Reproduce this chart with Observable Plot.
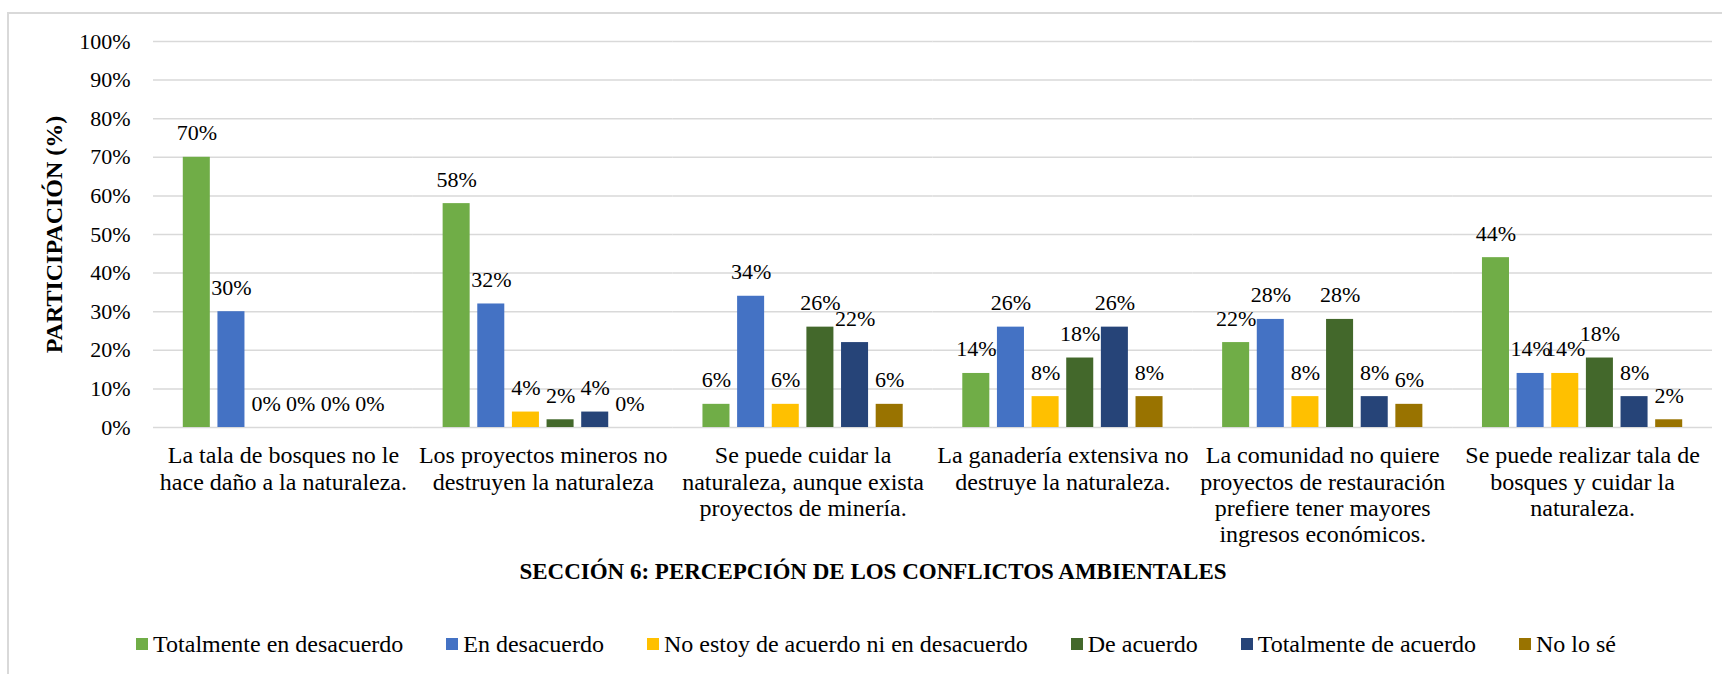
<!DOCTYPE html>
<html><head><meta charset="utf-8">
<script src="https://cdn.jsdelivr.net/npm/d3@7"></script>
<script src="https://cdn.jsdelivr.net/npm/@observablehq/plot@0.6"></script>
<style>
body{margin:0;background:#fff;}
#wrap{position:relative;width:1722px;height:674px;overflow:hidden;font-family:"Liberation Serif","Times New Roman",serif;color:#000;}
#frame{position:absolute;left:7px;top:12px;width:1800px;height:800px;border:2px solid #d9d9d9;box-sizing:border-box;}
#chart{position:absolute;left:0;top:0;}
#title{position:absolute;left:0;width:1746px;top:559px;text-align:center;font-weight:bold;font-size:23px;line-height:26px;}
#legend{position:absolute;left:0;width:1752px;top:630px;display:flex;justify-content:center;gap:43px;font-size:24px;line-height:28px;}
.item{display:flex;align-items:center;white-space:nowrap;}
.sw{width:12px;height:12px;margin-right:5px;display:inline-block;}
</style>
</head><body>
<div id="wrap">
  <div id="frame"></div>
  <div id="chart"></div>
  <div id="title"></div>
  <div id="legend"></div>
</div>
<script>
const categories = [
  "La tala de bosques no le hace daño a la naturaleza.",
  "Los proyectos mineros no destruyen la naturaleza",
  "Se puede cuidar la naturaleza, aunque exista proyectos de minería.",
  "La ganadería extensiva no destruye la naturaleza.",
  "La comunidad no quiere proyectos de restauración prefiere tener mayores ingresos económicos.",
  "Se puede realizar tala de bosques y cuidar la naturaleza."
];
const categoryLabels = [
  "La tala de bosques no le\nhace daño a la naturaleza.",
  "Los proyectos mineros no\ndestruyen la naturaleza",
  "Se puede cuidar la\nnaturaleza, aunque exista\nproyectos de minería.",
  "La ganadería extensiva no\ndestruye la naturaleza.",
  "La comunidad no quiere\nproyectos de restauración\nprefiere tener mayores\ningresos económicos.",
  "Se puede realizar tala de\nbosques y cuidar la\nnaturaleza."
];
const series = [
  "Totalmente en desacuerdo",
  "En desacuerdo",
  "No estoy de acuerdo ni en desacuerdo",
  "De acuerdo",
  "Totalmente de acuerdo",
  "No lo sé"
];
const colors = ["#70AD47", "#4472C4", "#FFC000", "#43682B", "#264478", "#997300"];
const totalmenteDesacuerdo = [70, 58, 6, 14, 22, 44];
const enDesacuerdo = [30, 32, 34, 26, 28, 14];
const neutral = [0, 4, 6, 8, 8, 14];
const deAcuerdo = [0, 2, 26, 18, 28, 18];
const totalmenteAcuerdo = [0, 4, 22, 26, 8, 8];
const noLoSe = [0, 0, 6, 8, 6, 2];
const yTicks = [0, 10, 20, 30, 40, 50, 60, 70, 80, 90, 100];
const chartTitle = "SECCIÓN 6: PERCEPCIÓN DE LOS CONFLICTOS AMBIENTALES";
const yLabel = "PARTICIPACIÓN (%)";

const seriesValues = [totalmenteDesacuerdo, enDesacuerdo, neutral, deAcuerdo, totalmenteAcuerdo, noLoSe];
const rows = [];
categories.forEach((c, i) => {
  series.forEach((s, j) => rows.push({cat: c, series: s, value: seriesValues[j][i]}));
});

const serif = "'Liberation Serif', 'Times New Roman', serif";
const plot = Plot.plot({
  width: 1722,
  height: 560,
  marginTop: 41,
  marginBottom: 133,
  marginLeft: 153,
  marginRight: 10,
  style: {fontFamily: serif, fontSize: "22px", color: "#000", background: "transparent", overflow: "visible"},
  fx: {domain: categories, padding: 0, round: false, label: null},
  x: {domain: series, paddingInner: 0.22, paddingOuter: 0.86, round: false, axis: null},
  y: {domain: [0, 100], label: null},
  color: {domain: series, range: colors},
  marks: [
    Plot.ruleY(yTicks, {stroke: "#d9d9d9", strokeWidth: 1.5}),
    Plot.barY(rows, {fx: "cat", x: "series", y: "value", fill: "series"}),
    Plot.text(rows, {fx: "cat", x: "series", y: "value", text: d => d.value + "%", lineAnchor: "bottom", dy: -17, fontSize: 22, fill: "#000"}),
    Plot.axisY(yTicks, {tickFormat: d => d + "%", tickSize: 0, tickPadding: 23, fontSize: 22, label: null}),
    Plot.text([yLabel], {fx: () => categories[0], text: d => d, frameAnchor: "left", rotate: -90, dx: -99, textAnchor: "middle", lineAnchor: "middle", fontSize: 24, fontWeight: "bold", fill: "#000"}),
    Plot.axisFx({anchor: "bottom", tickSize: 0, tickPadding: 17, lineHeight: 1.1, fontSize: 24, tickFormat: c => categoryLabels[categories.indexOf(c)], label: null})
  ]
});
document.getElementById("chart").appendChild(plot);
document.getElementById("title").textContent = chartTitle;
const legend = document.getElementById("legend");
series.forEach((s, j) => {
  const it = document.createElement("div");
  it.className = "item";
  const sw = document.createElement("span");
  sw.className = "sw";
  sw.style.background = colors[j];
  it.appendChild(sw);
  it.appendChild(document.createTextNode(s));
  legend.appendChild(it);
});
</script>
</body></html>
